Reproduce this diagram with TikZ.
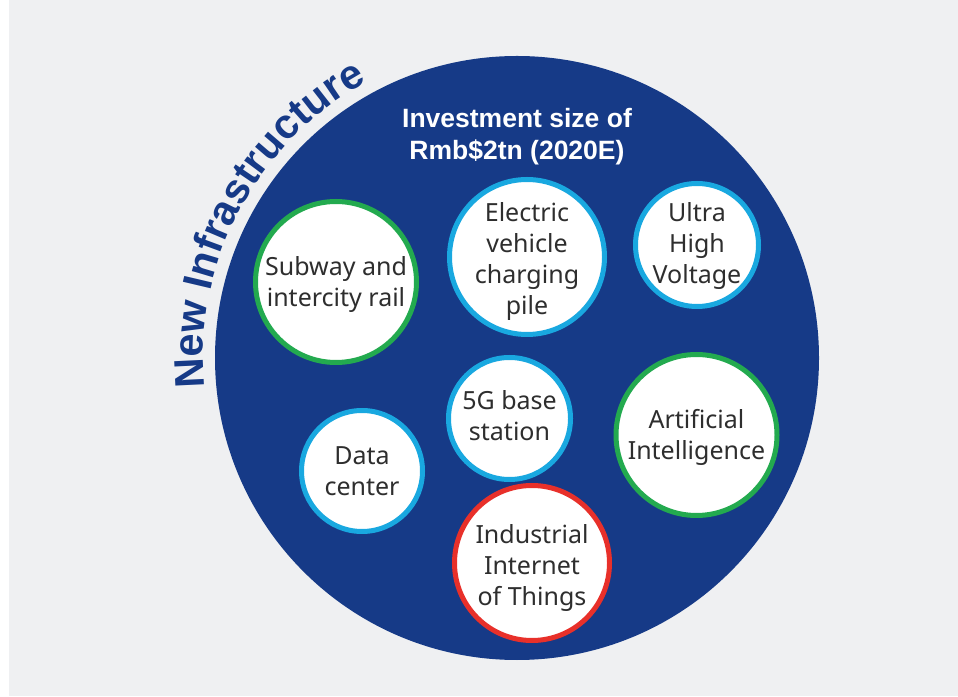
\documentclass[tikz,border=0pt]{standalone}
\usepackage{fontspec}
\setmainfont{Noto Sans}
\newfontfamily\titlefont{Liberation Sans}
\usetikzlibrary{decorations.text}
\definecolor{navy}{HTML}{163A87}
\definecolor{panel}{HTML}{EFF0F2}
\definecolor{skyb}{HTML}{19A8E0}
\definecolor{grn}{HTML}{23AA4F}
\definecolor{redr}{HTML}{E8302A}
\definecolor{txt}{HTML}{2E2E2E}
\begin{document}
\begin{tikzpicture}[x=1pt,y=1pt,
  item/.style={circle, draw=#1, line width=5pt, fill=white, inner sep=0pt},
  itemtext/.style={align=center, text=txt, font=\fontsize{25}{31}\selectfont},
  ]
\useasboundingbox (0,0) rectangle (958,696);
\fill[panel] (9,0) rectangle (958,696);
\fill[navy] (517,338) circle[radius=302];
\coordinate (c) at (517,338);
\path[decorate, decoration={text along path, text align=center, text color=navy,
  text={|\titlefont\bfseries\fontsize{41.5}{44}\selectfont|New Infrastructure}}]
  ([shift={(c)}]202:314) arc[start angle=202, end angle=102, radius=314];
\node[align=center, text=white, font=\titlefont\bfseries\fontsize{26.5}{32}\selectfont]
  (title) at (517,559) {Investment size of\\Rmb\$2tn (2020E)};
\node[item=grn, minimum size=161pt] (subway) at (336,414) {};
\node[itemtext] (subwayt) at ([yshift=-3pt]subway.center) {Subway and\\intercity rail};
\node[item=skyb, minimum size=155pt] (ev) at (527,439) {};
\node[itemtext] (evt) at ([yshift=-5pt]ev.center) {Electric\\vehicle\\charging\\pile};
\node[item=skyb, minimum size=123pt] (uhv) at (697,451) {};
\node[itemtext] (uhvt) at ([yshift=-1.5pt]uhv.center) {Ultra\\High\\Voltage};
\node[item=skyb, minimum size=122pt] (fiveg) at (509.5,277.5) {};
\node[itemtext] (fivegt) at ([yshift=3pt]fiveg.center) {5G base\\station};
\node[item=grn, minimum size=161pt] (ai) at (696.5,261) {};
\node[itemtext] (ait) at ([yshift=-2.5pt]ai.center) {Artificial\\Intelligence};
\node[item=skyb, minimum size=121pt] (data) at (362,225) {};
\node[itemtext] (datat) at (data.center) {Data\\center};
\node[item=redr, minimum size=155pt] (iiot) at (532,133) {};
\node[itemtext] (iiott) at ([yshift=-5.5pt]iiot.center) {Industrial\\Internet\\of Things};
\end{tikzpicture}
\end{document}
